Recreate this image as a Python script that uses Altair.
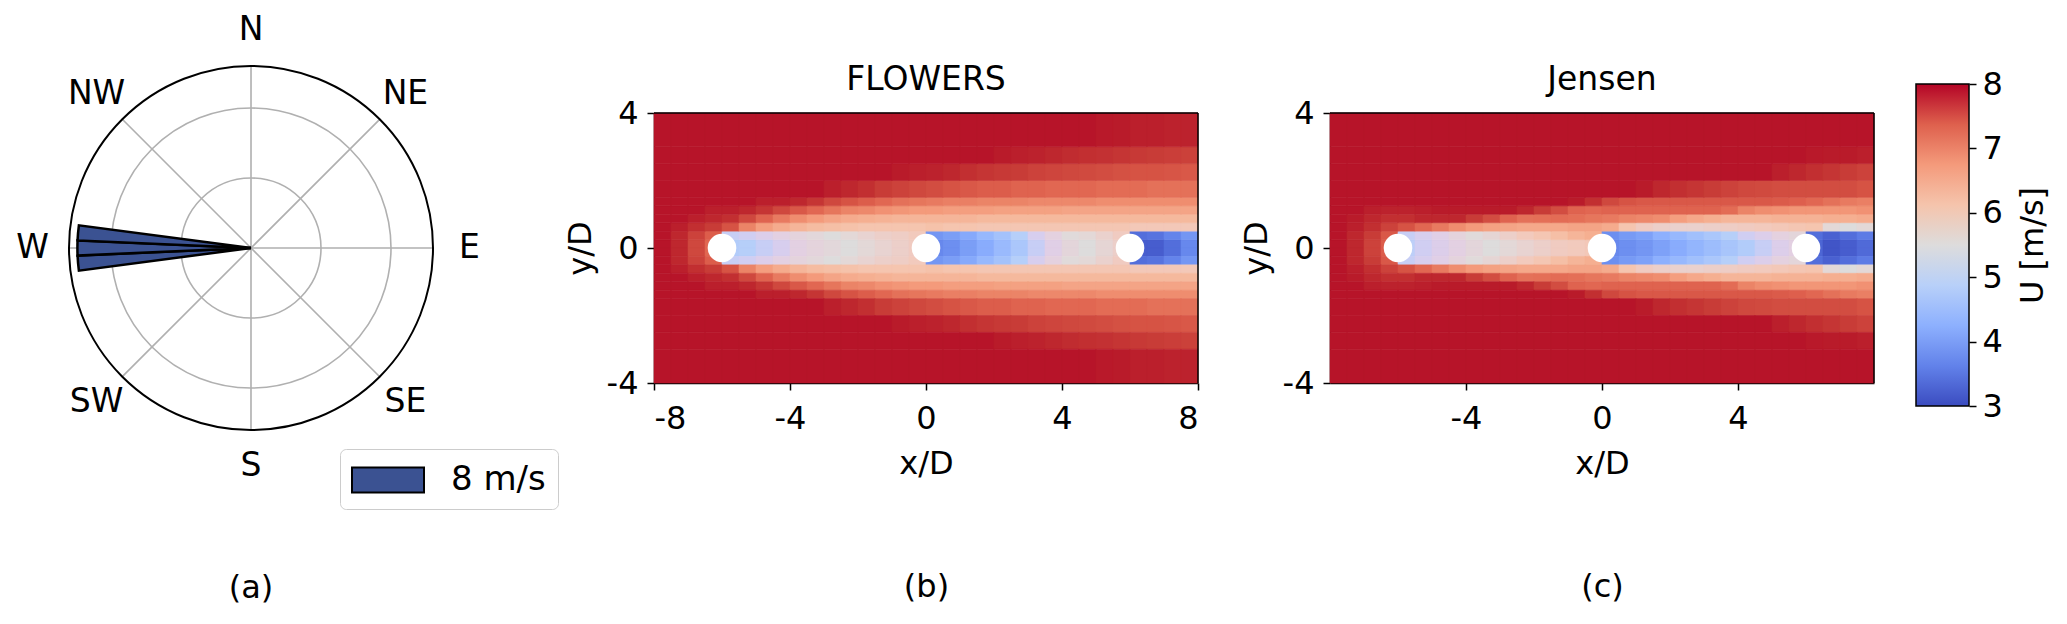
import altair as alt
import pandas as pd

# ---------------- wind rose (a) ----------------
ROSE_DIR = [265, 270, 275]          # sector centres, compass degrees
ROSE_HALF_WIDTH = 2.5               # half sector width, degrees
ROSE_FREQ = [1.24, 1.24, 1.24]      # bar length (radial units)
ROSE_SPEED = ["8 m/s", "8 m/s", "8 m/s"]
RING_R = [0.5, 1.0]
RING_MAX = [1.3]
SPOKE_DIR = [0, 45, 90, 135, 180, 225, 270, 315]
COMPASS = ["N", "NE", "E", "SE", "S", "SW", "W", "NW"]
LABEL_R = [1.56] * 8

# ---------------- wake fields (b), (c) ----------------
X_EDGES = [-8.0, -7.5, -7.0, -6.5, -6.0, -5.5, -5.0, -4.5, -4.0, -3.5, -3.0,
           -2.5, -2.0, -1.5, -1.0, -0.5, 0.0, 0.5, 1.0, 1.5, 2.0, 2.5, 3.0,
           3.5, 4.0, 4.5, 5.0, 5.5, 6.0, 6.5, 7.0, 7.5, 8.0]
Y_BANDS = [0.0, 0.25, 0.5, 0.75, 1.0, 1.25, 1.5, 2.0, 2.5, 3.0, 4.0]   # |y|/D bands
X_LIM = [-8, 8]
Y_LIM = [-4, 4]

FLOWERS_U = [
    [7.95, 7.85, 7.6, 7.3, 4.8, 4.85, 4.95, 5.05, 5.2, 5.3, 5.4, 5.5, 5.6, 5.7, 5.8, 5.9,
     3.7, 3.8, 4.0, 4.2, 4.45, 4.7, 4.95, 5.15, 5.35, 5.5, 5.65, 5.8, 3.2, 3.2, 3.4, 3.7],
    [7.95, 7.85, 7.65, 7.4, 4.95, 5.0, 5.1, 5.2, 5.3, 5.4, 5.5, 5.6, 5.7, 5.8, 5.85, 5.95,
     3.9, 4.0, 4.15, 4.4, 4.6, 4.85, 5.05, 5.25, 5.45, 5.6, 5.75, 5.9, 3.4, 3.45, 3.65, 3.9],
    [7.95, 7.9, 7.8, 7.7, 7.5, 7.0, 6.7, 6.5, 6.35, 6.25, 6.2, 6.15, 6.1, 6.1, 6.1, 6.1,
     6.15, 6.1, 6.1, 6.05, 6.05, 6.05, 6.05, 6.05, 6.05, 6.05, 6.05, 6.05, 6.0, 6.0, 6.0, 6.0],
    [7.95, 7.95, 7.9, 7.85, 7.8, 7.6, 7.35, 7.1, 6.9, 6.75, 6.6, 6.5, 6.45, 6.4, 6.35, 6.35,
     6.35, 6.35, 6.35, 6.3, 6.3, 6.3, 6.3, 6.3, 6.3, 6.3, 6.3, 6.3, 6.3, 6.3, 6.3, 6.3],
    [7.95, 7.95, 7.95, 7.9, 7.9, 7.85, 7.75, 7.6, 7.45, 7.3, 7.15, 7.0, 6.95, 6.85, 6.8, 6.75,
     6.75, 6.7, 6.7, 6.7, 6.65, 6.65, 6.65, 6.65, 6.6, 6.6, 6.6, 6.6, 6.6, 6.6, 6.6, 6.6],
    [7.95, 7.95, 7.95, 7.95, 7.95, 7.95, 7.9, 7.9, 7.85, 7.75, 7.6, 7.5, 7.4, 7.3, 7.2, 7.15,
     7.1, 7.05, 7.05, 7.0, 7.0, 7.0, 6.95, 6.95, 6.95, 6.95, 6.9, 6.9, 6.9, 6.9, 6.9, 6.9],
    [7.95, 7.95, 7.95, 7.95, 7.95, 7.95, 7.95, 7.95, 7.95, 7.95, 7.9, 7.85, 7.8, 7.7, 7.65, 7.6,
     7.55, 7.5, 7.45, 7.4, 7.4, 7.35, 7.35, 7.3, 7.3, 7.3, 7.25, 7.25, 7.25, 7.2, 7.2, 7.2],
    [7.95, 7.95, 7.95, 7.95, 7.95, 7.95, 7.95, 7.95, 7.95, 7.95, 7.95, 7.95, 7.95, 7.95, 7.92, 7.9,
     7.88, 7.85, 7.8, 7.75, 7.72, 7.7, 7.65, 7.62, 7.6, 7.58, 7.55, 7.52, 7.5, 7.5, 7.48, 7.45],
    [7.95, 7.95, 7.95, 7.95, 7.95, 7.95, 7.95, 7.95, 7.95, 7.95, 7.95, 7.95, 7.95, 7.95, 7.95, 7.95,
     7.95, 7.95, 7.95, 7.95, 7.92, 7.9, 7.88, 7.85, 7.82, 7.8, 7.78, 7.75, 7.72, 7.7, 7.68, 7.66],
    [7.95, 7.95, 7.95, 7.95, 7.95, 7.95, 7.95, 7.95, 7.95, 7.95, 7.95, 7.95, 7.95, 7.95, 7.95, 7.95,
     7.95, 7.95, 7.95, 7.95, 7.95, 7.95, 7.95, 7.95, 7.95, 7.95, 7.93, 7.92, 7.9, 7.9, 7.88, 7.88],
]

JENSEN_U = [
    [7.95, 7.85, 7.65, 7.4, 4.9, 5.0, 5.1, 5.2, 5.35, 5.5, 5.6, 5.7, 5.8, 5.9, 5.95, 6.0,
     3.7, 3.8, 3.9, 4.05, 4.2, 4.35, 4.5, 4.65, 4.8, 4.95, 5.1, 5.2, 3.3, 3.1, 3.2, 3.35],
    [7.95, 7.85, 7.7, 7.45, 4.95, 5.05, 5.15, 5.3, 5.45, 5.65, 5.8, 5.95, 6.05, 6.2, 6.35, 6.45,
     3.8, 3.95, 4.05, 4.25, 4.4, 4.55, 4.7, 4.85, 5.0, 5.1, 5.25, 5.35, 3.4, 3.25, 3.4, 3.55],
    [7.95, 7.9, 7.8, 7.65, 7.5, 7.3, 7.1, 6.9, 6.75, 6.65, 6.6, 6.55, 6.55, 6.55, 6.6, 6.6,
     6.5, 6.1, 5.9, 5.8, 5.75, 5.75, 5.8, 5.85, 5.9, 5.95, 6.0, 6.05, 6.1, 5.6, 5.5, 5.6],
    [7.95, 7.92, 7.85, 7.8, 7.8, 7.85, 7.85, 7.85, 7.7, 7.55, 7.35, 7.2, 7.22, 7.25, 7.22, 7.15,
     7.1, 7.0, 6.95, 6.9, 6.7, 6.55, 6.45, 6.35, 6.35, 6.35, 6.4, 6.4, 6.4, 6.45, 6.45, 6.5],
    [7.95, 7.95, 7.9, 7.88, 7.88, 7.9, 7.92, 7.92, 7.92, 7.92, 7.92, 7.85, 7.7, 7.55, 7.35, 7.3,
     7.35, 7.35, 7.35, 7.35, 7.35, 7.35, 7.35, 7.25, 7.0, 6.9, 6.85, 6.8, 6.8, 6.8, 6.8, 6.85],
    [7.95, 7.95, 7.95, 7.95, 7.95, 7.95, 7.95, 7.95, 7.95, 7.95, 7.95, 7.95, 7.95, 7.95, 7.92, 7.8,
     7.6, 7.5, 7.45, 7.45, 7.45, 7.45, 7.45, 7.45, 7.45, 7.45, 7.42, 7.38, 7.3, 7.2, 7.1, 7.05],
    [7.95, 7.95, 7.95, 7.95, 7.95, 7.95, 7.95, 7.95, 7.95, 7.95, 7.95, 7.95, 7.95, 7.95, 7.95, 7.95,
     7.95, 7.95, 7.92, 7.85, 7.8, 7.75, 7.7, 7.65, 7.6, 7.58, 7.55, 7.55, 7.55, 7.55, 7.55, 7.5],
    [7.95, 7.95, 7.95, 7.95, 7.95, 7.95, 7.95, 7.95, 7.95, 7.95, 7.95, 7.95, 7.95, 7.95, 7.95, 7.95,
     7.95, 7.95, 7.95, 7.95, 7.95, 7.95, 7.95, 7.95, 7.95, 7.95, 7.9, 7.85, 7.8, 7.75, 7.7, 7.65],
    [7.95, 7.95, 7.95, 7.95, 7.95, 7.95, 7.95, 7.95, 7.95, 7.95, 7.95, 7.95, 7.95, 7.95, 7.95, 7.95,
     7.95, 7.95, 7.95, 7.95, 7.95, 7.95, 7.95, 7.95, 7.95, 7.95, 7.95, 7.95, 7.93, 7.92, 7.92, 7.9],
    [7.95, 7.95, 7.95, 7.95, 7.95, 7.95, 7.95, 7.95, 7.95, 7.95, 7.95, 7.95, 7.95, 7.95, 7.95, 7.95,
     7.95, 7.95, 7.95, 7.95, 7.95, 7.95, 7.95, 7.95, 7.95, 7.95, 7.95, 7.95, 7.95, 7.95, 7.95, 7.95],
]

TURBINE_X = [-6.0, 0.0, 6.0]
TURBINE_Y = [0.0, 0.0, 0.0]
CBAR_RANGE = [3, 8]
CBAR_TICKS = [3, 4, 5, 6, 7, 8]

# coolwarm colour stops
CW_DOMAIN = [3.0, 3.625, 4.25, 4.875, 5.5, 6.125, 6.75, 7.375, 8.0]
CW_COLORS = ["#3b4cc0", "#6282ea", "#8db0fe", "#b8d0f9", "#dddcdc",
             "#f5c4ac", "#f49a7b", "#de604d", "#b40426"]

FONT = "DejaVu Sans"
PLOT_W, PLOT_H = 544, 270


def field_frame(rows):
    recs = []
    for j, row in enumerate(rows):
        y0, y1 = Y_BANDS[j], Y_BANDS[j + 1]
        for i, u in enumerate(row):
            x0, x1 = X_EDGES[i], X_EDGES[i + 1]
            recs.append({"x0": x0, "x1": x1, "y0": y0, "y1": y1, "u": u})
            recs.append({"x0": x0, "x1": x1, "y0": -y1, "y1": -y0, "u": u})
    return pd.DataFrame(recs)


u_scale = alt.Scale(domain=CW_DOMAIN, range=CW_COLORS, clamp=True)


def heat_panel(rows, title, xticks, tag, extra_w=0):
    xs = alt.Scale(domain=X_LIM, nice=False, zero=False, range=[0, PLOT_W])
    ys = alt.Scale(domain=Y_LIM, nice=False, zero=False)
    base = alt.Chart(field_frame(rows)).mark_rect(strokeWidth=0.6).encode(
        x=alt.X("x0:Q", scale=xs,
                axis=alt.Axis(values=xticks, title=["x/D", tag], titleLineHeight=123,
                              labelExpr="datum.value + ''", labelPadding=13, titlePadding=14)),
        x2="x1:Q",
        y=alt.Y("y0:Q", scale=ys,
                axis=alt.Axis(values=[-4, 0, 4], title="y/D", labelExpr="datum.value + ''",
                              labelPadding=9, titlePadding=9)),
        y2="y1:Q",
        color=alt.Color("u:Q", scale=u_scale, legend=None),
        stroke=alt.Stroke("u:Q", scale=u_scale, legend=None),
    )
    turb = alt.Chart(pd.DataFrame({"x": TURBINE_X, "y": TURBINE_Y})).mark_point(
        shape="circle", filled=True, color="white", opacity=1, size=820, strokeWidth=0
    ).encode(x="x:Q", y="y:Q")
    # plot frame: top and right borders at the axis limits
    frame = alt.Chart(pd.DataFrame({
        "xa": [X_LIM[0], X_LIM[1]], "xb": [X_LIM[1], X_LIM[1]],
        "ya": [Y_LIM[1], Y_LIM[0]], "yb": [Y_LIM[1], Y_LIM[1]],
    })).mark_rule(color="black", strokeWidth=1.5).encode(
        x="xa:Q", x2="xb:Q", y="ya:Q", y2="yb:Q"
    )
    return alt.layer(base, turb, frame).properties(
        width=PLOT_W + extra_w, height=PLOT_H,
        title=alt.TitleParams(title, anchor="middle", frame="group", offset=0,
                              dx=-extra_w / 2, fontSize=33, font=FONT, fontWeight="normal"),
    )


# ---------- panel (a) ----------
A_W = 543
ROSE_CX = 182
theta_scale = alt.Scale(domain=[0, 360], range=[0, 6.283185307179586])
r_scale = alt.Scale(type="linear", domain=[0, 1.3], range=[0, 182], nice=False, zero=True)
TWO_PI = 6.2832

rose_df = pd.DataFrame({"dir": ROSE_DIR, "freq": ROSE_FREQ, "speed": ROSE_SPEED})
wedges = alt.Chart(rose_df).transform_calculate(
    t0=f"datum.dir - {ROSE_HALF_WIDTH}", t1=f"datum.dir + {ROSE_HALF_WIDTH}"
).mark_arc(stroke="black", strokeWidth=2.5).encode(
    x=alt.value(ROSE_CX),
    theta=alt.Theta("t0:Q", scale=theta_scale, stack=None),
    theta2="t1:Q",
    radius=alt.Radius("freq:Q", scale=r_scale, stack=None),
    color=alt.Color("speed:N", scale=alt.Scale(range=["#3b5292"]),
                    legend=alt.Legend(title=None, orient="none", legendX=271, legendY=336,
                                      symbolType="M-2,-0.7H2V0.7H-2Z", symbolSize=1296,
                                      symbolStrokeColor="black", symbolStrokeWidth=2,
                                      symbolOffset=17, labelOffset=44, labelFontSize=34,
                                      labelFont=FONT, labelColor="black", fillColor="white",
                                      strokeColor="#cccccc", cornerRadius=6, padding=12,
                                      symbolOpacity=1)),
)

rings = alt.Chart(pd.DataFrame({"r": RING_R})).mark_arc(
    theta=0, theta2=TWO_PI, fillOpacity=0, stroke="#b0b0b0", strokeWidth=1.6
).encode(x=alt.value(ROSE_CX), radius=alt.Radius("r:Q", scale=r_scale, stack=None))

spokes = alt.Chart(pd.DataFrame({"d": SPOKE_DIR, "r": RING_MAX * 8})).transform_calculate(
    d2="datum.d + 0.01"
).mark_arc(fillOpacity=0, stroke="#b0b0b0", strokeWidth=1.6, strokeJoin="round").encode(
    x=alt.value(ROSE_CX),
    theta=alt.Theta("d:Q", scale=theta_scale, stack=None), theta2="d2:Q",
    radius=alt.Radius("r:Q", scale=r_scale, stack=None),
)

outer = alt.Chart(pd.DataFrame({"r": RING_MAX})).mark_arc(
    theta=0, theta2=TWO_PI, fillOpacity=0, stroke="black", strokeWidth=2
).encode(x=alt.value(ROSE_CX), radius=alt.Radius("r:Q", scale=r_scale, stack=None))

labels = alt.Chart(pd.DataFrame({"d": SPOKE_DIR, "lab": COMPASS, "r": LABEL_R})).mark_text(
    fontSize=33, font=FONT, color="black", align="center", baseline="middle"
).encode(
    x=alt.value(ROSE_CX),
    theta=alt.Theta("d:Q", scale=theta_scale, stack=None),
    radius=alt.Radius("r:Q", scale=r_scale, stack=None),
    text="lab:N",
)

panel_a = alt.layer(rings, spokes, wedges, outer, labels).properties(
    width=A_W, height=PLOT_H,
    title=alt.TitleParams("(a)", orient="bottom", anchor="middle", frame="group",
                          offset=63, dx=ROSE_CX - A_W / 2, fontSize=32, font=FONT,
                          fontWeight="normal"),
)

# ---------- panels (b), (c) ----------
panel_b = heat_panel(FLOWERS_U, "FLOWERS", [-8, -4, 0, 4, 8], "(b)", extra_w=90)
panel_c = heat_panel(JENSEN_U, "Jensen", [-4, 0, 4], "(c)")

# ---------- colour bar ----------
grad = alt.Gradient(
    gradient="linear",
    stops=[alt.GradientStop(color=c, offset=i / (len(CW_COLORS) - 1)) for i, c in enumerate(CW_COLORS)],
    x1=0, x2=0, y1=1, y2=0,
)
cbar = alt.Chart(pd.DataFrame({"lo": [CBAR_RANGE[0]], "hi": [CBAR_RANGE[1]]})).mark_rect(
    fill=grad, stroke="black", strokeWidth=1.5
).encode(
    x=alt.value(0), x2=alt.value(53),
    y=alt.Y("lo:Q", scale=alt.Scale(domain=CBAR_RANGE, range=[293, -29], nice=False, zero=False),
            axis=alt.Axis(orient="right", values=CBAR_TICKS, title="U [m/s]", titleAngle=270,
                          titleBaseline="top", domain=False, labelPadding=6, titlePadding=15)),
    y2="hi:Q",
).properties(width=53, height=PLOT_H)

chart = alt.hconcat(panel_a, panel_b, panel_c, cbar, spacing=42, bounds="flush").resolve_scale(
    x="independent", y="independent", color="independent", stroke="independent"
)

chart = chart.properties(
    padding={"left": 8, "top": 5, "right": 2, "bottom": 0}
).configure_view(stroke=None).configure_axis(
    labelFont=FONT, titleFont=FONT, labelFontSize=32, titleFontSize=32,
    titleFontWeight="normal", labelColor="black", titleColor="black",
    domainColor="black", tickColor="black", domainWidth=1.5, tickWidth=1.5,
    tickSize=7, grid=False,
).configure_title(font=FONT, color="black")

chart.save("out.html", embed_options={"renderer": "svg", "actions": False})
